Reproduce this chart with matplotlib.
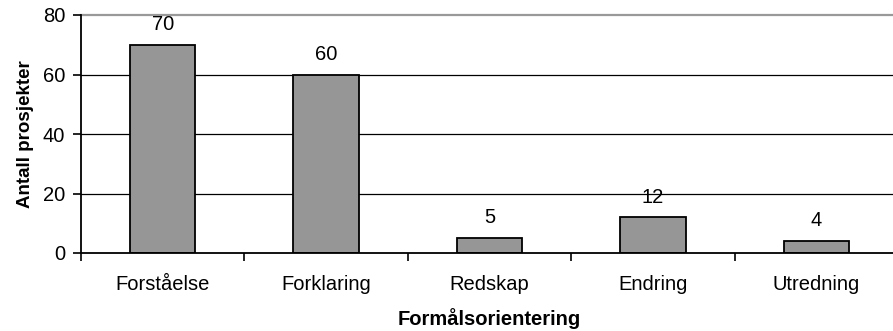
import matplotlib
matplotlib.use("Agg")
import matplotlib.pyplot as plt
import numpy as np

categories = ["Forståelse", "Forklaring", "Redskap", "Endring", "Utredning"]
values = [70, 60, 5, 12, 4]
yticks = [0, 20, 40, 60, 80]

plt.rcParams["font.family"] = ["Liberation Sans", "DejaVu Sans"]

fig = plt.figure(figsize=(8.93, 3.31), dpi=100)
ax = fig.add_axes([81 / 893, 78 / 331, 817 / 893, 238 / 331])

x = np.arange(len(categories))
bars = ax.bar(x, values, width=0.4, color="#969696", edgecolor="black",
              linewidth=1.3, zorder=3)

for xi, v in zip(x, values):
    ax.annotate(str(v), (xi, v), xytext=(0, 14.5), textcoords="offset points",
                ha="center", va="center", fontsize=14.5)

ax.set_xlim(-0.5, len(categories) - 0.5)
ax.set_ylim(0, 80)
ax.set_yticks(yticks)
ax.set_yticklabels([str(t) for t in yticks], fontsize=14.5)
ax.set_xticks(x)
ax.set_xticklabels(categories, fontsize=14.5)
ax.set_xticks(np.arange(-0.5, len(categories) - 0.5, 1.0), minor=True)

ax.tick_params(axis="x", which="major", length=0, pad=16)
ax.tick_params(axis="x", which="minor", length=5.5, width=1.2, direction="out")
ax.tick_params(axis="y", length=5.5, width=1.2, direction="out", pad=6)

for yv in yticks[1:-1]:
    ax.axhline(yv, color="black", linewidth=0.9, zorder=1)
ax.axhline(80, color="#999999", linewidth=1.6, zorder=1, clip_on=False)

for side in ["top", "right"]:
    ax.spines[side].set_visible(False)
for side in ["left", "bottom"]:
    ax.spines[side].set_linewidth(1.3)
    ax.spines[side].set_zorder(4)

ax.set_xlabel("Formålsorientering", fontsize=14.5, fontweight="bold", labelpad=10)
ax.set_ylabel("Antall prosjekter", fontsize=13.5, fontweight="bold", labelpad=6)

fig.savefig("out.png", dpi=100)
